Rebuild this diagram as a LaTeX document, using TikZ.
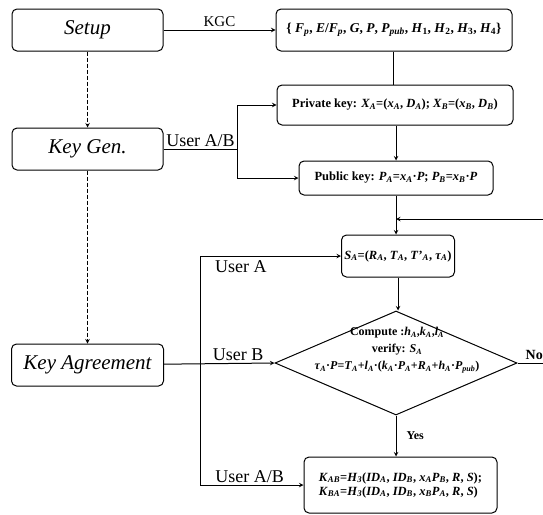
\documentclass[tikz,border=0pt]{standalone}
\usepackage{fontspec}
\setmainfont{Liberation Serif}
\usepackage{tikz}
\usetikzlibrary{shapes.geometric, arrows, positioning}

% italic symbol with italic subscript
\newcommand{\vsub}[2]{\textit{#1}\textsubscript{\textit{#2}}}

\begin{document}
\begin{tikzpicture}[x=1pt, y=-1pt, node distance=1.8cm]
\tikzstyle{stage} = [rectangle, rounded corners=5pt, minimum width=151pt, minimum height=42pt, text centered, draw=black, line width=1pt, font=\fontsize{21}{24}\selectfont\itshape]
\tikzstyle{keybox} = [rectangle, rounded corners=5pt, text centered, draw=black, line width=1pt, inner sep=2pt, font=\fontsize{12.5}{14}\selectfont\bfseries]
\tikzstyle{check} = [diamond, draw=black, line width=1pt, inner sep=0pt, aspect=2.33, minimum width=242pt, minimum height=104pt]
\tikzstyle{arrow} = [line width=1pt, ->, >=stealth]
\tikzstyle{user} = [font=\fontsize{18}{20}\selectfont, inner sep=2pt]

\useasboundingbox (0,0) rectangle (543,514);

% phases on the left
\node (setup) [stage] at (87.5,30) {Setup};
\node (keygen) [stage, below of=setup, node distance=119pt] {Key Gen.};
\node (agree) [stage, below of=keygen, node distance=216pt, minimum width=152pt] {Key Agreement};

% steps on the right
\node (params) [keybox, minimum width=236pt, minimum height=42pt, font=\fontsize{13.5}{16}\selectfont\bfseries] at (394,30)
  {\{ \vsub{F}{p}, \textit{E}/\vsub{F}{p}, \textit{G}, \textit{P}, \vsub{P}{pub}, \textit{H}\textsubscript{1}, \textit{H}\textsubscript{2}, \textit{H}\textsubscript{3}, \textit{H}\textsubscript{4}\}};
\node (priv) [keybox, minimum width=236pt, minimum height=40pt] at (395,105)
  {Private key: \vsub{X}{A}=(\vsub{x}{A}, \vsub{D}{A}); \vsub{X}{B}=(\vsub{x}{B}, \vsub{D}{B})};
\node (pub) [keybox, minimum width=194pt, minimum height=34pt] at (396,178)
  {Public key: \vsub{P}{A}=\vsub{x}{A}·\textit{P}; \vsub{P}{B}=\vsub{x}{B}·\textit{P}};
\node (sa) [keybox, minimum width=113pt, minimum height=42pt, inner sep=1pt] at (398,256)
  {\vsub{S}{A}=(\vsub{R}{A}, \vsub{T}{A}, \textit{T}\textquoteright\textsubscript{\textit{A}}, \vsub{τ}{A})};
\node (chk) [check] at (396,363) {};
\node (chktext) [align=center, inner sep=0pt, font=\fontsize{12}{17}\selectfont\bfseries] at (397,350)
  {Compute :\vsub{h}{A},\vsub{k}{A},\vsub{l}{A}\\
   verify: \vsub{S}{A}\\
   \vsub{τ}{A}·\textit{P}=\vsub{T}{A}+\vsub{l}{A}·(\vsub{k}{A}·\vsub{P}{A}+\vsub{R}{A}+\vsub{h}{A}·\vsub{P}{pub})};
\node (kk) [keybox, minimum width=193pt, minimum height=56pt, align=left] at (400.5,485)
  {\vsub{K}{AB}=\vsub{H}{3}(\vsub{ID}{A}, \vsub{ID}{B}, \vsub{x}{A}\vsub{P}{B}, \textit{R}, \textit{S});\\
   \vsub{K}{BA}=\vsub{H}{3}(\vsub{ID}{A}, \vsub{ID}{B}, \vsub{x}{B}\vsub{P}{A}, \textit{R}, \textit{S})};

\coordinate (loop) at (543,219);
\coordinate (noend) at (543,363);
\coordinate (bustop) at (200,256);

% phase order
\draw [arrow, dash pattern=on 4pt off 2pt] (setup) -- (keygen);
\draw [arrow, dash pattern=on 4pt off 2pt] (keygen) -- (agree);

% KGC and key generation
\draw [arrow] (setup) -- node[above, font=\fontsize{15}{16}\selectfont, inner sep=3pt] {KGC} (params);
\draw [line width=1pt] (params.south -| 393,0) -- (priv.north -| 393,0);
\draw [arrow] (priv.south -| pub.north) -- (pub.north);
\draw [line width=1pt] (keygen.east) -- node[above, user] {User A/B} ++(74,0) coordinate (fork);
\draw [arrow] (fork) |- (priv.west);
\draw [arrow] (fork) |- (pub.west);

% key agreement
\draw [arrow] (loop) -- (loop -| pub.south);
\draw [arrow] (pub.south) -- (pub.south |- sa.north);
\draw [arrow] (bustop) -- node[below, user, pos=0.29, yshift=-2pt] {User A} (sa.west);
\draw [arrow] (bustop) |- node[above, user, pos=0.74] {User A/B} (kk.west);
\draw [arrow] (agree) -- node[above, user, pos=0.67] {User B} (chk.west);
\draw [arrow] (sa.south) -- (sa.south |- chk.north);
\draw [arrow] (chk.south) -- node[right, font=\fontsize{12}{14}\selectfont\bfseries, inner sep=10pt] {Yes} (chk.south |- kk.north);
\draw [line width=1pt] (chk.east) -- node[above, font=\fontsize{14}{16}\selectfont\bfseries, inner sep=3pt, xshift=4pt] {No} (noend);
\end{tikzpicture}
\end{document}
